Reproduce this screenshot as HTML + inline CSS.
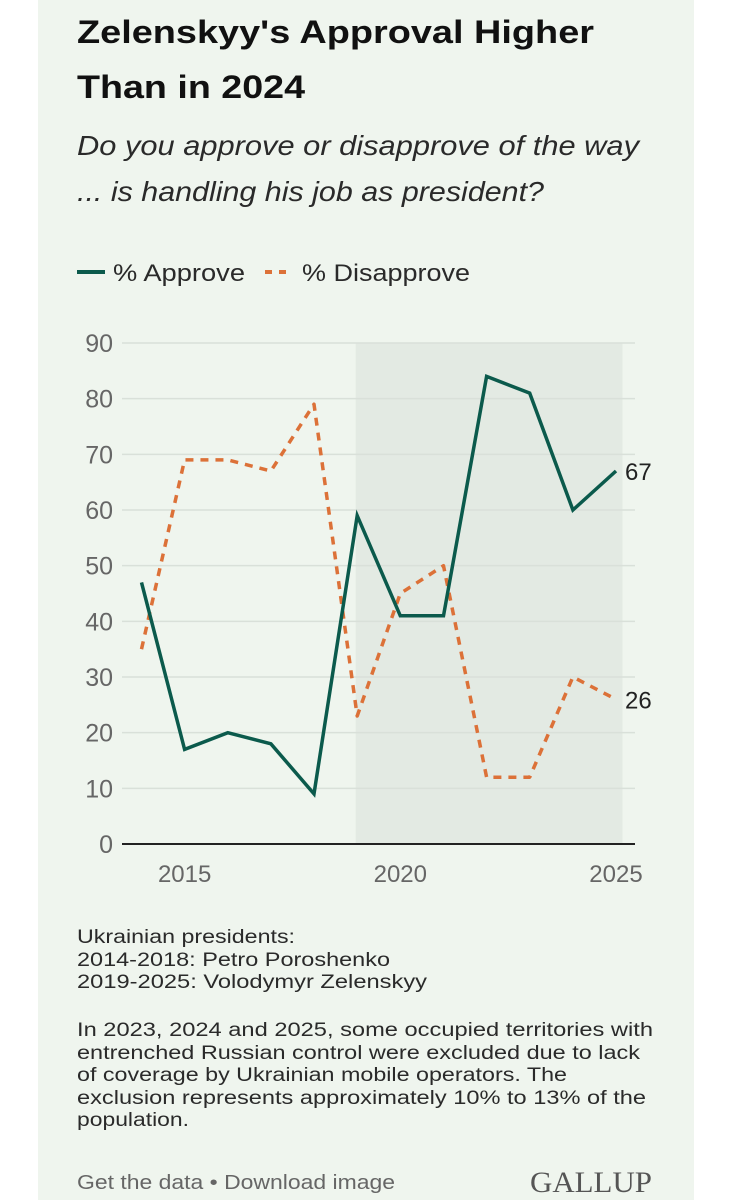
<!DOCTYPE html>
<html><head><meta charset="utf-8">
<style>
html,body{margin:0;padding:0;background:#fff;}
body{width:731px;height:1200px;overflow:hidden;position:relative;font-family:"Liberation Sans",sans-serif;}
#card{position:absolute;left:38px;top:0;width:656px;height:1200px;background:#eff5ee;}
svg{position:absolute;left:0;top:0;}
</style></head>
<body>
<div id="card"></div>
<svg width="731" height="1200">
  <text x="77" y="43" font-size="32" font-weight="bold" fill="#111" textLength="517" lengthAdjust="spacingAndGlyphs">Zelenskyy's Approval Higher</text>
  <text x="77" y="98" font-size="32" font-weight="bold" fill="#111" textLength="228" lengthAdjust="spacingAndGlyphs">Than in 2024</text>
  <text x="77" y="155" font-size="28" font-style="italic" fill="#2a2a2a" textLength="562" lengthAdjust="spacingAndGlyphs">Do you approve or disapprove of the way</text>
  <text x="77" y="201" font-size="28" font-style="italic" fill="#2a2a2a" textLength="467" lengthAdjust="spacingAndGlyphs">... is handling his job as president?</text>
  <g>
    <line x1="77" y1="272" x2="105" y2="272" stroke="#0b5a4c" stroke-width="4"/>
    <text x="113" y="281" font-size="24" fill="#2a2a2a" textLength="132" lengthAdjust="spacingAndGlyphs">% Approve</text>
    <line x1="265" y1="272" x2="293" y2="272" stroke="#dc7138" stroke-width="4" stroke-dasharray="7,7"/>
    <text x="302" y="281" font-size="24" fill="#2a2a2a" textLength="168" lengthAdjust="spacingAndGlyphs">% Disapprove</text>
  </g>
  <g id="plot"></g>
  <g font-size="19" fill="#2a2a2a">
    <text x="77" y="943" textLength="218" lengthAdjust="spacingAndGlyphs">Ukrainian presidents:</text>
    <text x="77" y="966" textLength="313" lengthAdjust="spacingAndGlyphs">2014-2018: Petro Poroshenko</text>
    <text x="77" y="988" textLength="350" lengthAdjust="spacingAndGlyphs">2019-2025: Volodymyr Zelenskyy</text>
    <text x="77" y="1036" textLength="576" lengthAdjust="spacingAndGlyphs">In 2023, 2024 and 2025, some occupied territories with</text>
    <text x="77" y="1059" textLength="563" lengthAdjust="spacingAndGlyphs">entrenched Russian control were excluded due to lack</text>
    <text x="77" y="1081" textLength="490" lengthAdjust="spacingAndGlyphs">of coverage by Ukrainian mobile operators. The</text>
    <text x="77" y="1104" textLength="569" lengthAdjust="spacingAndGlyphs">exclusion represents approximately 10% to 13% of the</text>
    <text x="77" y="1126" textLength="112" lengthAdjust="spacingAndGlyphs">population.</text>
  </g>
  <text x="77" y="1189" font-size="20" fill="#666" textLength="318" lengthAdjust="spacingAndGlyphs">Get the data • Download image</text>
  <text x="530" y="1192" font-size="30" font-family="Liberation Serif,serif" fill="#555" textLength="122" lengthAdjust="spacingAndGlyphs">GALLUP</text>
</svg>
<script>
const years = [2014,2015,2016,2017,2018,2019,2020,2021,2022,2023,2024,2025];
const approve = [47,17,20,18,9,59,41,41,84,81,60,67];
const disapprove = [35,69,69,67,79,23,45,50,12,12,30,26];
const yTicks = [0,10,20,30,40,50,60,70,80,90];
const xTicks = [2015,2020,2025];
const shadeStart = 2019, shadeEnd = 2025;

const NS = "http://www.w3.org/2000/svg";
const g = document.getElementById('plot');
const x = yr => 141.5 + (yr - 2014) * (616 - 141.5) / 11;
const y = v => 844 - v * (844 - 343) / 90;
function mk(tag, attrs){const e=document.createElementNS(NS,tag);for(const k in attrs)e.setAttribute(k,attrs[k]);g.appendChild(e);return e;}

const sh = mk('rect',{x:x(shadeStart)-1.5,y:y(90),width:x(shadeEnd)-x(shadeStart)+8,height:y(0)-y(90),fill:'#e3eae3'});



yTicks.forEach(t => {
  const l = mk('line',{x1:122,x2:635,y1:y(t),y2:y(t),stroke:t===0?'#222':'#d9e0d9','stroke-width':t===0?2:1.5});
  
  
  const tx = mk('text',{x:113,y:y(t)+9,'font-size':25,fill:'#666','text-anchor':'end'});
  tx.textContent = t;
  
  
});
xTicks.forEach(t => {
  const tx = mk('text',{x:x(t),y:882,'font-size':24,fill:'#666','text-anchor':'middle'});
  tx.textContent = t;
  
  
});

const pts = arr => arr.map((v,i)=>x(years[i]).toFixed(1)+','+y(v).toFixed(1)).join(' ');
const dl = mk('polyline',{points:pts(disapprove),fill:'none',stroke:'#dc7138','stroke-width':3.5,'stroke-dasharray':'8,7','stroke-linejoin':'round'});


const al = mk('polyline',{points:pts(approve),fill:'none',stroke:'#0b5a4c','stroke-width':3.5,'stroke-linejoin':'miter'});



const n = years.length - 1;
const la = mk('text',{x:x(years[n])+9,y:y(approve[n])+9,'font-size':24,fill:'#222'});
la.textContent = approve[n];


const ld = mk('text',{x:x(years[n])+9,y:y(disapprove[n])+9,'font-size':24,fill:'#222'});
ld.textContent = disapprove[n];


</script>
</body></html>
